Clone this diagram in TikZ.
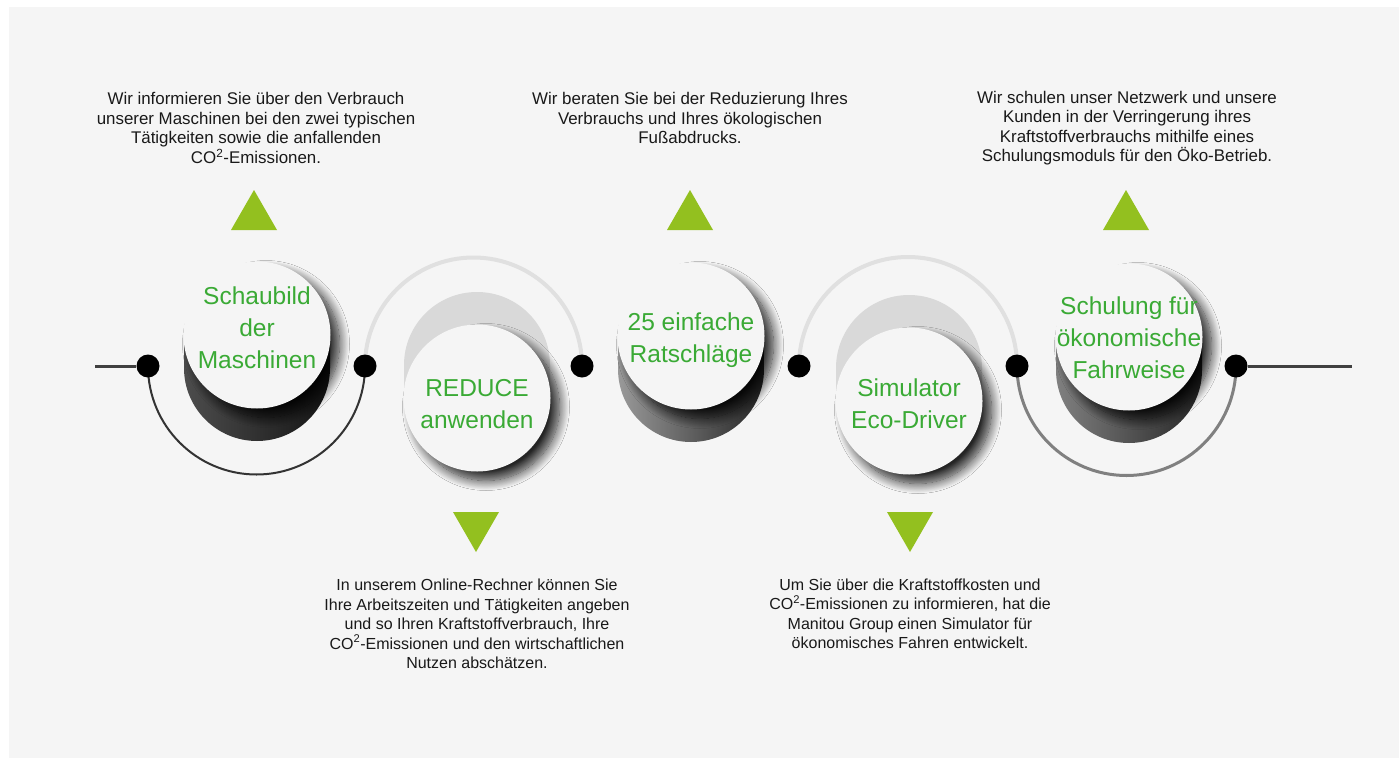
\documentclass[tikz,border=0pt]{standalone}
\usepackage{fontspec}
\setmainfont{Liberation Sans}
\usetikzlibrary{shadows.blur}
\definecolor{leaf}{HTML}{93C01F}
\definecolor{label}{HTML}{3AAA35}
\definecolor{paper}{HTML}{F5F5F5}
\begin{document}
\begin{tikzpicture}[x=1pt,y=-1pt,
    dot/.style={circle,fill=black,minimum size=23pt,inner sep=0pt},
    disc/.style={circle,fill=paper,minimum size=147pt,inner sep=0pt,
      blur shadow={shadow xshift=9pt,shadow yshift=-9pt,shadow blur radius=10pt,
        shadow blur steps=16,shadow opacity=85}},
    tag/.style={align=center,text=label,font=\fontsize{24.5}{32}\selectfont},
    info/.style={align=center,font=\fontsize{16}{19.5}\selectfont,text=black!90},
    infotop/.style={info,font=\fontsize{16.9}{19.5}\selectfont},
    tri/.style={fill=leaf}]
  \useasboundingbox (0,0) rectangle (1399,760);
  \fill[white] (0,0) rectangle (1399,760);
  \fill[paper] (9,7) rectangle (1399,758);

  \coordinate (p1) at (148,366);
  \coordinate (p2) at (365,366);
  \coordinate (p3) at (582,366);
  \coordinate (p4) at (799,366);
  \coordinate (p5) at (1017,366);
  \coordinate (p6) at (1236,366);
  \coordinate (la) at (95,366);
  \coordinate (lb) at (1352,366);

  \draw[line width=2pt,black!80] (p1) arc[start angle=180,end angle=0,radius=108.5];
  \draw[line width=4pt,black!12] (p2) arc[start angle=180,end angle=360,radius=108.5];
  \draw[line width=4pt,black!12] (p4) arc[start angle=180,end angle=360,radius=109];
  \draw[line width=3pt,black!50] (p5) arc[start angle=180,end angle=0,radius=109.5];

  \draw
    (p1) node[dot] (d1){}
    (p2) node[dot] (d2){}
    (p3) node[dot] (d3){}
    (p4) node[dot] (d4){}
    (p5) node[dot] (d5){}
    (p6) node[dot] (d6){};
  \draw[line width=3pt,black!75] (la) -- (d1);
  \draw[line width=3pt,black!75] (d6) -- (lb);

  \shade[left color=black!70,right color=black!92] (184,335) -- (184,368) arc[start angle=180,end angle=0,radius=73] -- (330,335) -- cycle;
  \fill[black!15] (404,398) -- (404,365) arc[start angle=180,end angle=360,radius=73] -- (550,398) -- cycle;
  \shade[left color=black!40,right color=black!85] (618,336) -- (618,369) arc[start angle=180,end angle=0,radius=73] -- (764,336) -- cycle;
  \fill[black!15] (836,401) -- (836,368) arc[start angle=180,end angle=360,radius=73] -- (982,401) -- cycle;
  \shade[left color=black!50,right color=black!85] (1056,337) -- (1056,370) arc[start angle=180,end angle=0,radius=73] -- (1202,337) -- cycle;

  \node[disc] (s1) at (257,335) {};
  \node[disc] (s2) at (477,398) {};
  \node[disc] (s3) at (691,336) {};
  \node[disc] (s4) at (909,401) {};
  \node[disc] (s5) at (1129,337) {};
  \node[tag] (t1) at (257,328) {Schaubild\\der\\Maschinen};
  \node[tag] (t2) at (477,404) {REDUCE\\anwenden};
  \node[tag] (t3) at (691,340) {25 einfache\\Ratschläge};
  \node[tag] (t4) at (909,404) {Simulator\\Eco-Driver};
  \node[tag] (t5) at (1129,338) {Schulung für\\ökonomische\\Fahrweise};

  \foreach \x in {254,690,1126}
    \fill[tri] (\x,190) -- (\x+23,230) -- (\x-23,230) -- cycle;
  \foreach \x in {476,910}
    \fill[tri] (\x-23,512) -- (\x+23,512) -- (\x,552) -- cycle;

  \node[infotop] (i1) at (256,128) {Wir informieren Sie über den Verbrauch\\unserer Maschinen bei den zwei typischen\\Tätigkeiten sowie die anfallenden\\CO\textsuperscript{2}-Emissionen.};
  \node[infotop] (i2) at (690,118) {Wir beraten Sie bei der Reduzierung Ihres\\Verbrauchs und Ihres ökologischen\\Fußabdrucks.};
  \node[infotop] (i3) at (1127,128) {Wir schulen unser Netzwerk und unsere\\Kunden in der Verringerung ihres\\Kraftstoffverbrauchs mithilfe eines\\Schulungsmoduls für den Öko-Betrieb.};
  \node[info] (i4) at (477,624) {In unserem Online-Rechner können Sie\\Ihre Arbeitszeiten und Tätigkeiten angeben\\und so Ihren Kraftstoffverbrauch, Ihre\\CO\textsuperscript{2}-Emissionen und den wirtschaftlichen\\Nutzen abschätzen.};
  \node[info] (i5) at (910,614) {Um Sie über die Kraftstoffkosten und\\CO\textsuperscript{2}-Emissionen zu informieren, hat die\\Manitou Group einen Simulator für\\ökonomisches Fahren entwickelt.};
\end{tikzpicture}
\end{document}
